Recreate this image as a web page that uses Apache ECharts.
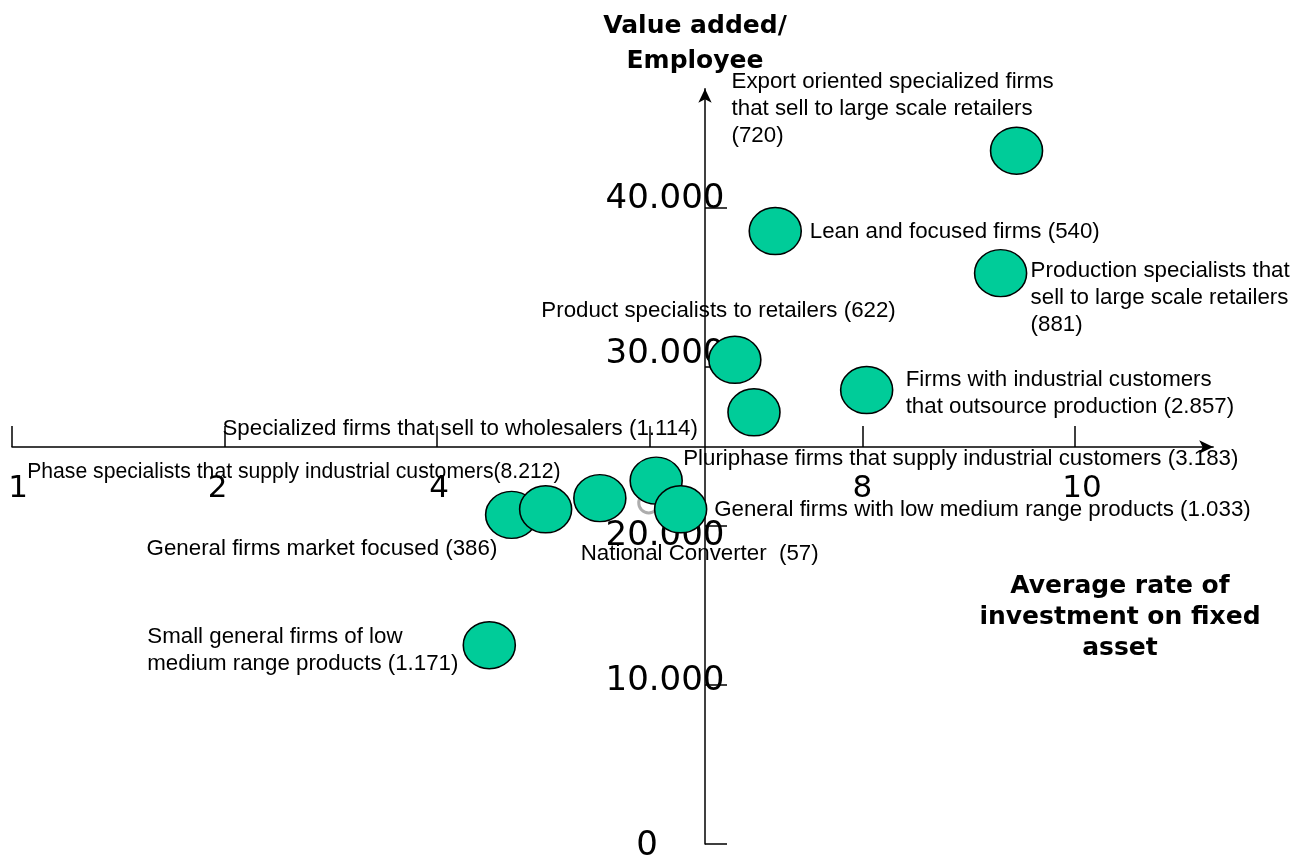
<!DOCTYPE html>
<html>
<head>
<meta charset="utf-8">
<script src="https://cdn.jsdelivr.net/npm/echarts@6/dist/echarts.min.js"></script>
<style>html,body{margin:0;padding:0;background:#fff}#c{width:1303px;height:855px}</style>
</head>
<body>
<div id="c"></div>
<script>
// ---- data ----
const firmNames = [
  'Export oriented specialized firms\nthat sell to large scale retailers\n(720)',
  'Lean and focused firms (540)',
  'Production specialists that\nsell to large scale retailers\n(881)',
  'Product specialists to retailers (622)',
  'Specialized firms that sell to wholesalers (1.114)',
  'Firms with industrial customers\nthat outsource production (2.857)',
  'Small general firms of low\nmedium range products (1.171)',
  'General firms market focused (386)',
  'Phase specialists that supply industrial customers(8.212)',
  '',
  'Pluriphase firms that supply industrial customers (3.183)',
  'General firms with low medium range products (1.033)'
];
const investRate = [9.45, 7.18, 9.30, 6.80, 6.98, 8.04, 4.49, 4.70, 5.02, 5.53, 6.06, 6.29];
const valueAdded = [43600, 38550, 35900, 30450, 27150, 28550, 12500, 20700, 21050, 21750, 22850, 21050];

const refName = 'National Converter  (57)';
const refInvest = [5.99];
const refValue = [21450];

const xTickValues = [0, 2, 4, 6, 8, 10];
const xTickLabels = ['1', '2', '4', '6', '8', '10'];
const yTickValues = [0, 10000, 20000, 30000, 40000];
const yTickLabels = ['0', '10.000', '20.000', '30.000', '40.000'];

const yAxisTitle = 'Value added/\nEmployee';
const xAxisTitle = 'Average rate of\ninvestment on fixed\nasset';

// ---- layout (styles only) ----
const labelOffsets = [
  [-285, -82.5], [34.5, -12.5], [30, -16], [-193.5, -62.5], [-531.5, 3.5], [39, -23.5],
  [-342, -22], [-365, 20.5], [-518.5, -50.5], [0, 0], [27, -35], [33.5, -12.5]
];
const labelSizes = [22.3, 22.3, 22.3, 22.3, 22.3, 22.3, 22.3, 22.3, 21.2, 22.3, 22.3, 22.3];
const refLabelOffset = [-68, 37.5];
const yLabelPad = [[4,36,0,0],[0,0,8,0],[21,0,0,0],[0,0,26,0],[0,0,17,0]];
const xLabelPad = [[0,0,0,12],[0,14,0,0],[0,0,0,4],[0,0,0,0],[0,0,0,0],[0,0,0,14]];

const labelFont = {fontFamily: 'Liberation Sans, Arial, sans-serif', lineHeight: 27, color: '#000000',
  opacity: 1, textBorderWidth: 0, textShadowBlur: 0};

const chart = echarts.init(document.getElementById('c'), null, {renderer: 'canvas'});

const mainData = firmNames.map((n, i) => ({
  name: n,
  value: [investRate[i], valueAdded[i]],
  label: Object.assign({
    show: n !== '', position: ['50%', '50%'], align: 'left', verticalAlign: 'top',
    offset: labelOffsets[i], formatter: '{b}', fontSize: labelSizes[i]
  }, labelFont)
}));
const refData = refInvest.map((x, i) => ({
  name: refName,
  value: [x, refValue[i]],
  label: Object.assign({
    show: true, position: ['50%', '50%'], align: 'left', verticalAlign: 'top',
    offset: refLabelOffset, formatter: '{b}', fontSize: 22.3
  }, labelFont)
}));

const yRich = {};
yTickLabels.forEach((t, i) => {
  yRich['t' + i] = {fontFamily: 'DejaVu Sans', fontSize: 34, color: '#000', padding: yLabelPad[i]};
});
const xRich = {};
xTickLabels.forEach((t, i) => {
  xRich['t' + i] = {fontFamily: 'DejaVu Sans', fontSize: 31, color: '#000', padding: xLabelPad[i]};
});

chart.setOption({
  animation: false,
  backgroundColor: '#fff',
  title: [
    {text: yAxisTitle, left: 690, top: 4, textAlign: 'center',
     textStyle: {fontFamily: 'DejaVu Sans', fontWeight: 'bold', fontSize: 25, lineHeight: 35, color: '#000'}},
    {text: xAxisTitle, left: 1115, top: 566, textAlign: 'center',
     textStyle: {fontFamily: 'DejaVu Sans', fontWeight: 'bold', fontSize: 25, lineHeight: 31, color: '#000'}}
  ],
  grid: {left: 12, right: 89.8, top: 88.7, bottom: 11, containLabel: false, outerBoundsMode: 'none'},
  xAxis: {
    type: 'value', min: 0, max: 11.3, position: 'bottom', offset: -397,
    splitLine: {show: false},
    axisLine: {show: true, onZero: false, symbol: ['none', 'arrow'], symbolSize: [10, 14],
      lineStyle: {color: '#000', width: 1.5}},
    axisTick: {show: true, inside: true, length: 21, customValues: xTickValues,
      lineStyle: {color: '#000', width: 1.5}},
    axisLabel: {show: true, margin: 26, customValues: xTickValues,
      formatter: v => { const i = xTickValues.indexOf(v); return '{t' + i + '|' + xTickLabels[i] + '}'; },
      rich: xRich}
  },
  yAxis: {
    type: 'value', min: 0, max: 47500, position: 'left', offset: -693,
    splitLine: {show: false},
    axisLine: {show: true, onZero: false, symbol: ['none', 'arrow'], symbolSize: [10, 14],
      lineStyle: {color: '#000', width: 1.5}},
    axisTick: {show: true, inside: true, length: 22, customValues: yTickValues,
      lineStyle: {color: '#000', width: 1.5}},
    axisLabel: {show: true, margin: 40, align: 'center', customValues: yTickValues,
      formatter: v => { const i = yTickValues.indexOf(v); return '{t' + i + '|' + yTickLabels[i] + '}'; },
      rich: yRich}
  },
  series: [
    {
      type: 'scatter', name: 'reference', data: refData, symbol: 'circle', symbolSize: 20,
      itemStyle: {color: '#fff', borderColor: '#999', borderWidth: 3}, z: 2
    },
    {
      type: 'scatter', name: 'firms', data: mainData, symbol: 'circle', symbolSize: [52, 47],
      itemStyle: {color: '#00CC99', borderColor: '#000', borderWidth: 1.5, opacity: 1}, z: 3
    }
  ]
});
</script>
</body>
</html>
